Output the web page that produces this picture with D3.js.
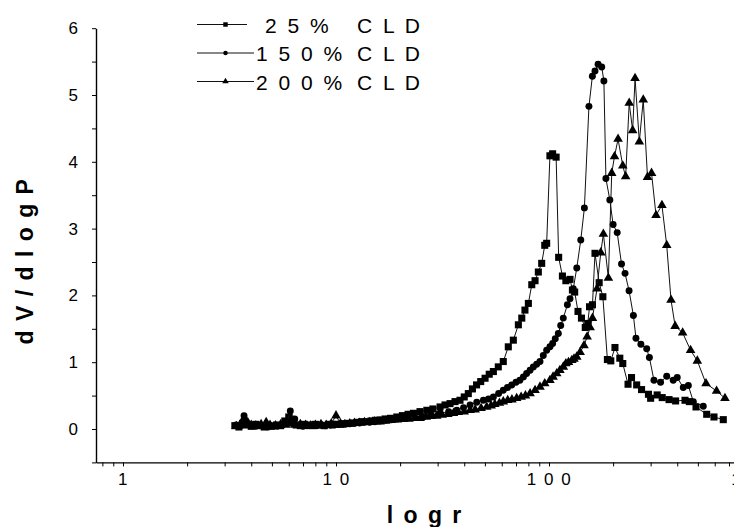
<!DOCTYPE html>
<html><head><meta charset="utf-8">
<script src="https://cdn.jsdelivr.net/npm/d3@7"></script>
<style>
html,body{margin:0;padding:0;background:#fff;}
svg{display:block;font-family:"Liberation Sans",Arial,sans-serif;}
</style></head>
<body><svg id="c" width="734" height="527"></svg>
<script>
// ---- data (r in nm, dV/dlogP) ----
const seriesNames = ["2 5 %", "1 5 0 %", "2 0 0 %"];
const legendSuffix = "C L D";
const xTickLabels = {1: "1", 10: "1 0", 100: "1 0 0", 1000: "1 0 0 0"};
const yTickLabels = [0, 1, 2, 3, 4, 5, 6];

const rA = [3.35,3.5,3.65,3.8,4.0,4.2,4.4,4.6,4.8,5.0,5.25,5.5,5.75,6.0,6.25,6.5,6.8,7.1,7.4,7.7,8.0,8.4,8.8,9.2,9.6,10,10.5,11,11.5,12,12.6,13.2,13.9,14.6,15.3,16.1,17,18,19.3,20.5,21.8,23.1,24.8,26.7,28.5,30.8,32.5,34.3,36.2,38.2,40,41.8,43.7,45.7,47.8,50.1,52.4,54.8,57.8,61,64.4,68,71.8,74.5,77.1,80,83,86,89.1,92.4,95.5,97.5,101,104,108,111,115.6,120,125.5,128.8,132,136.8,142,148,152,155,160,164.4,172,179,188,195,204,215,222,235,244,258,272,293,300,322,340,366,393,435,456,490,550,595,658];
const vA = [0.05,0.03,0.08,0.06,0.04,0.07,0.05,0.03,0.05,0.04,0.06,0.05,0.12,0.18,0.1,0.06,0.05,0.07,0.06,0.05,0.07,0.06,0.05,0.07,0.06,0.07,0.07,0.08,0.085,0.09,0.1,0.11,0.11,0.12,0.13,0.135,0.15,0.16,0.18,0.2,0.22,0.235,0.26,0.28,0.3,0.33,0.36,0.38,0.41,0.43,0.48,0.53,0.6,0.66,0.71,0.76,0.82,0.86,0.93,1.01,1.23,1.33,1.56,1.66,1.78,1.88,2.16,2.22,2.35,2.48,2.75,2.78,4.09,4.12,4.07,2.57,2.29,2.22,2.24,2.08,2.05,1.76,1.66,1.52,1.58,1.83,1.86,2.63,2.19,1.98,1.04,1.02,1.22,1.06,0.98,0.67,0.77,0.66,0.59,0.52,0.46,0.51,0.47,0.44,0.42,0.43,0.41,0.33,0.22,0.18,0.14];

const rB = [3.4,3.55,3.7,3.85,4.0,4.2,4.4,4.6,4.8,5.0,5.3,5.6,5.9,6.1,6.4,6.7,7.0,7.3,7.7,8.1,8.5,8.9,9.4,9.9,10.4,11,11.6,12.2,12.9,13.6,14.4,15.2,16.1,17.1,18.2,19.4,20.6,21.5,23.5,25.7,28,30.8,33.8,36.9,39.7,42.6,45.8,49.2,52,54.8,58,61,63.8,66.8,70,73,75.8,78.5,81.5,84.4,87.5,90.7,94,97.5,101,104,107,110.6,113.5,116.7,122,125.5,130,135,141,146.6,154,159.8,164.4,170,176.8,181,185,193,200,209,219,227.5,237.6,249,256,270,287.5,296,311,334,357,383,400,427,451,476,530];
const vB = [0.06,0.04,0.2,0.08,0.05,0.04,0.06,0.05,0.03,0.05,0.04,0.06,0.1,0.27,0.15,0.06,0.04,0.05,0.06,0.05,0.06,0.05,0.06,0.07,0.07,0.07,0.08,0.085,0.09,0.1,0.1,0.11,0.12,0.13,0.14,0.15,0.155,0.16,0.17,0.18,0.21,0.235,0.26,0.28,0.32,0.36,0.4,0.43,0.45,0.48,0.53,0.58,0.62,0.66,0.7,0.73,0.78,0.83,0.88,0.93,0.97,1.01,1.1,1.18,1.23,1.28,1.35,1.43,1.55,1.66,1.86,1.95,2.1,2.41,2.83,3.31,4.83,5.28,5.36,5.46,5.42,5.21,3.75,3.43,3.06,2.94,2.47,2.33,2.07,1.7,1.36,1.27,1.2,1.07,0.73,0.7,0.79,0.73,0.77,0.62,0.65,0.41,0.34];

const rC = [3.4,3.55,3.7,3.85,4.0,4.2,4.45,4.7,4.9,5.2,5.5,5.8,6.1,6.4,6.8,7.2,7.6,8.0,8.5,9.0,9.5,10,10.5,11,11.6,12.2,12.9,13.6,14.4,15.2,16.1,17.1,18.2,19.4,20.6,22,23.4,24.8,26.5,28,29.7,31.5,33.5,35.6,37.5,40,42.6,45,48,51,53.5,55.7,58.5,61,64,67,70.5,74,77.5,81.5,86,90.7,95.5,101,104.5,108.7,112.5,116.7,120,123.5,128,131,135,140,146,151,156,160,168,175,180,190,197,203,211,222,229,238,247,253.5,265.5,277,290,303,318,339,357,374,391,424,462,497,546,612,670];
const vC = [0.04,0.07,0.16,0.1,0.06,0.05,0.07,0.1,0.06,0.05,0.07,0.06,0.08,0.06,0.07,0.06,0.05,0.06,0.07,0.06,0.08,0.2,0.08,0.07,0.08,0.09,0.09,0.1,0.1,0.11,0.11,0.12,0.13,0.14,0.145,0.15,0.16,0.16,0.18,0.19,0.195,0.21,0.22,0.235,0.25,0.26,0.28,0.29,0.31,0.33,0.35,0.37,0.39,0.41,0.43,0.44,0.46,0.48,0.5,0.53,0.58,0.63,0.68,0.73,0.78,0.83,0.88,0.93,0.98,1.0,1.03,1.05,1.08,1.15,1.25,1.38,1.52,1.66,2.1,2.64,2.92,2.26,3.83,4.08,4.34,3.94,3.78,4.88,4.47,5.25,4.3,4.93,3.77,3.83,3.2,3.35,2.75,1.93,1.54,1.44,1.18,1.02,0.68,0.57,0.46];

// ---- chart ----
const svg = d3.select("#c");
svg.append("rect").attr("width",734).attr("height",527).attr("fill","#fff");

const x = d3.scaleLog().domain([0.7467, 1200]).range([96, 123 + 213*Math.log10(1200)]);
const y = d3.scaleLinear().domain([-0.5, 6]).range([462.4, 28.2]);

const xt = [];
[0.1,1,10,100].forEach(d => { for (let k=1;k<10;k++){ const v=+(d*k).toPrecision(3); if (v>=0.8) xt.push(v);} });
xt.push(1000);

const gx = svg.append("g").attr("transform","translate(0,462.4)")
  .call(d3.axisBottom(x).tickValues(xt).tickSize(4).tickSizeOuter(0).tickPadding(7)
    .tickFormat(d => xTickLabels[d] || ""));
gx.select(".domain").attr("stroke","#000").attr("stroke-width",1.4);
gx.selectAll(".tick line").attr("stroke","#000");
gx.selectAll("text").attr("font-size",17).attr("fill","#000").attr("font-family","Liberation Sans, Arial, sans-serif")
  .style("letter-spacing","1.5px").attr("xml:space","preserve");

const yt = d3.range(-0.5, 6.01, 0.5);
const gy = svg.append("g").attr("transform","translate(96,0)")
  .call(d3.axisLeft(y).tickValues(yt).tickSize(4).tickSizeOuter(0).tickPadding(14)
    .tickFormat(d => yTickLabels.includes(d) ? String(d) : ""));
gy.select(".domain").attr("stroke","#000").attr("stroke-width",1.4);
gy.selectAll(".tick line").attr("stroke","#000");
gy.selectAll("text").attr("font-size",17).attr("fill","#000").attr("font-family","Liberation Sans, Arial, sans-serif");

// titles
svg.append("text").attr("x",425).attr("y",523).attr("text-anchor","middle")
  .attr("font-size",23).attr("font-weight","bold").style("letter-spacing","2px")
  .text("l o g r");
svg.append("text").attr("transform","translate(33,261) rotate(-90)").attr("text-anchor","middle")
  .attr("font-size",23).attr("font-weight","bold").style("letter-spacing","1.5px")
  .text("d V / d l o g P");

const series = [
  {r: rA, v: vA, sym: d3.symbolSquare, size: 50, lsize: 20},
  {r: rB, v: vB, sym: d3.symbolCircle, size: 38, lsize: 16},
  {r: rC, v: vC, sym: d3.symbolTriangle, size: 40, lsize: 18}
];

const line = d3.line().x(d => x(d[0])).y(d => y(d[1]));
series.forEach(s => {
  const pts = s.r.map((r,i) => [r, s.v[i]]);
  const g = svg.append("g");
  g.append("path").attr("d", line(pts)).attr("fill","none").attr("stroke","#111").attr("stroke-width",1);
  g.selectAll("path.m").data(pts).enter().append("path").attr("class","m")
    .attr("transform", d => `translate(${x(d[0])},${y(d[1])})`)
    .attr("d", d3.symbol().type(s.sym).size(s.size)).attr("fill","#000");
});

// legend
const ly = [24.5, 53, 81.5];
const lx0 = 197, lx1 = 254, lm = 225.5;
const numX = [265, 256, 256];
series.forEach((s,i) => {
  const g = svg.append("g");
  g.append("line").attr("x1",lx0).attr("x2", i===0 ? 247 : lx1).attr("y1",ly[i]).attr("y2",ly[i]).attr("stroke","#111").attr("stroke-width",1);
  g.append("path").attr("transform",`translate(${lm},${ly[i]})`).attr("d", d3.symbol().type(s.sym).size(s.lsize)).attr("fill","#000");
  g.append("text").attr("x", numX[i]).attr("y", ly[i]+8).attr("font-size",21).style("letter-spacing","2.5px")
    .attr("xml:space","preserve").text(seriesNames[i]);
  g.append("text").attr("x", 357).attr("y", ly[i]+8).attr("font-size",21).style("letter-spacing","2.5px")
    .attr("xml:space","preserve").text(legendSuffix);
});
</script></body></html>
